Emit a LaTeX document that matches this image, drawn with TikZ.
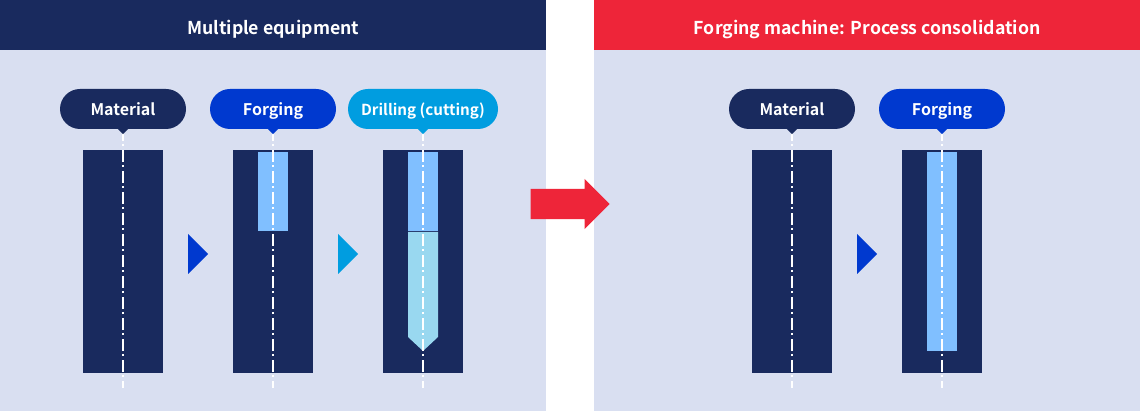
\documentclass[tikz,border=0pt]{standalone}
\usepackage{fontspec}
\setmainfont{Noto Sans CJK JP}[BoldFont={Noto Sans CJK JP Bold}]
\usetikzlibrary{arrows.meta, positioning, shapes.geometric, shapes.misc, shapes.arrows}
\definecolor{panelbg}{HTML}{D9DFF1}
\definecolor{navy}{HTML}{192A5E}
\definecolor{royal}{HTML}{0039CF}
\definecolor{cyanblue}{HTML}{009DE0}
\definecolor{skyblue}{HTML}{80BFFF}
\definecolor{paleteal}{HTML}{99D8F0}
\definecolor{signalred}{HTML}{EE2539}

\begin{document}
\begin{tikzpicture}[
    x=1pt, y=-1pt,
    font=\bfseries,
    % Blocks
    panel/.style ={fill=panelbg, anchor=north west, inner sep=0pt, minimum width=546pt, minimum height=361pt},
    header/.style={anchor=north west, inner sep=0pt, minimum width=546pt, minimum height=50pt, text=white,
                   font=\fontsize{17.7}{20}\selectfont\bfseries, text height=18pt, text depth=0pt},
    bubble/.style={rounded rectangle, text=white, inner sep=0pt, minimum width=126pt, minimum height=40pt,
                   font=\fontsize{16}{20}\selectfont\bfseries, text height=13pt, text depth=0pt},
    bar/.style   ={fill=navy, anchor=north west, inner sep=0pt, minimum width=80pt, minimum height=223pt},
    bore/.style  ={anchor=north west, inner sep=0pt, minimum width=30pt},
    next/.style  ={isosceles triangle, isosceles triangle stretches,
                   anchor=apex, inner sep=0pt, minimum height=20pt, minimum width=40pt},
    % Centre lines
    axis/.style  ={draw=white, line width=2.4pt, dash pattern=on 12pt off 2.7pt on 2pt off 4.3pt}
]

\path[use as bounding box, fill=white] (0,0) rectangle (1140,411);

% Background panels and titles
\node[panel] (panelL) at (0,50) {};
\node[panel] (panelR) at (594,50) {};
\node[header, fill=navy] (headL) at (0,0) {Multiple equipment};
\node[header, fill=signalred] (headR) at (594,0) {Forging machine: Process consolidation};

% --------------------------- Work pieces ------------------------------
\node[bar] (barA) at (83,150) {};
\node[bar] (barB) at (233,150) {};
\node[bar] (barC) at (383,150) {};
\node[bar] (barD) at (752,150) {};
\node[bar] (barE) at (902,150) {};

\node[bore, fill=skyblue, minimum height=79pt] (boreB) at (258,152) {};
\node[bore, fill=skyblue, minimum height=79pt] (boreC) at (408,152) {};
\node[bore, fill=skyblue, minimum height=199pt] (boreE) at (927,152) {};
% Drilled part with its point
\fill[paleteal] (408,232) -- (438,232) -- (438,337) -- (423,351) -- (408,337) -- cycle;

% --------------------------- Labels -----------------------------------
\node[bubble, fill=navy]  (matA)   at (123,109) {Material};
\node[bubble, fill=royal] (forgeA) at (273,109) {Forging};
\node[bubble, fill=cyanblue, minimum width=150pt, font=\fontsize{15.2}{20}\selectfont\bfseries] (drill) at (423,109) {Drilling (cutting)};
\node[bubble, fill=navy]  (matB)   at (792,109) {Material};
\node[bubble, fill=royal] (forgeB) at (942,109) {Forging};

% Centre lines, then the pointers of the labels
\coordinate (axisend) at (0,388);
\foreach \n in {matA,forgeA,drill,matB,forgeB}
    \draw[axis] (\n.south) -- (\n.south |- axisend);
\foreach \n/\c in {matA/navy,forgeA/royal,drill/cyanblue,matB/navy,forgeB/royal}
    \fill[\c] (\n.south) ++(-5.5,-0.5) -- ++(11,0) -- ++(-5.5,5.5) -- cycle;

% Step marks
\node[next, fill=royal]    (stepA) at (208.7,254) {};
\node[next, fill=cyanblue] (stepB) at (358.7,254) {};
\node[next, fill=royal]    (stepC) at (877.7,254) {};

% Large arrow between the panels
\node[single arrow, fill=signalred, anchor=tip, inner xsep=0pt, inner ysep=15pt, minimum height=79pt, minimum width=50pt,
      single arrow head extend=10pt] (bigarrow) at (610,204) {};

\end{tikzpicture}
\end{document}
